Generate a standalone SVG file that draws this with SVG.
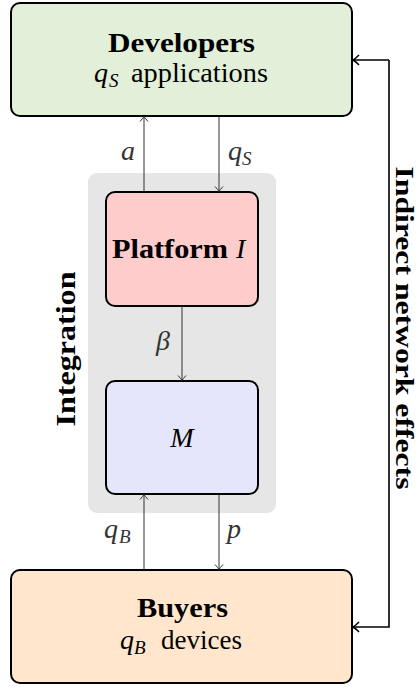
<svg xmlns="http://www.w3.org/2000/svg" width="417" height="688" viewBox="0 0 417 688">
<defs>
<style>
.box{stroke:#000;stroke-width:2}
.t{font-family:'Liberation Serif','Times New Roman',serif;font-size:28px;fill:#000}
.b{font-weight:bold}
.i{font-style:italic}
.sub{font-size:19px;font-style:italic}
.lbl{fill:#333}
.ar{fill:none;stroke:#333;stroke-width:1}
.ar2{fill:none;stroke:#000;stroke-width:1.6}
</style>
<marker id="to" markerUnits="userSpaceOnUse" viewBox="-6 -5 7 10" markerWidth="7" markerHeight="10" refX="0" refY="0" orient="auto">
<path d="M-5,-4 Q-1.5,-0.8 0,0 Q-1.5,0.8 -5,4" fill="none" stroke="#333" stroke-width="1"/>
</marker>
<marker id="to2" markerUnits="userSpaceOnUse" viewBox="-8 -6 9 12" markerWidth="9" markerHeight="12" refX="0" refY="0" orient="auto">
<path d="M-6,-5 Q-2,-1 0,0 Q-2,1 -6,5" fill="none" stroke="#000" stroke-width="1.6"/>
</marker>
</defs>
<rect width="417" height="688" fill="#fff"/>
<g id="integration">
<rect x="88" y="173" width="188" height="340" rx="9" fill="#e6e6e6"/>
<text class="t b" transform="translate(75,349) rotate(-90)" text-anchor="middle" textLength="155" lengthAdjust="spacingAndGlyphs">Integration</text>
</g>
<g id="developers">
<rect class="box" x="11" y="3" width="341" height="113" rx="9" fill="#e2efd9"/>
<text class="t b" x="108" y="52" textLength="147" lengthAdjust="spacingAndGlyphs">Developers</text>
<text class="t i" x="94" y="82">q</text>
<text class="t sub" x="109" y="87">S</text>
<text class="t" x="131" y="82" textLength="137" lengthAdjust="spacingAndGlyphs">applications</text>
</g>
<g id="platform">
<rect class="box" x="106" y="192" width="152" height="114" rx="9" fill="#ffcccc"/>
<text class="t b" x="112" y="258" textLength="116" lengthAdjust="spacingAndGlyphs">Platform</text>
<text class="t i" x="236" y="258">I</text>
</g>
<g id="m">
<rect class="box" x="106" y="381" width="152" height="113" rx="9" fill="#e5e5fc"/>
<text class="t i" x="182" y="447" text-anchor="middle">M</text>
</g>
<g id="buyers">
<rect class="box" x="11" y="570" width="341" height="113" rx="9" fill="#ffe6cc"/>
<text class="t b" x="137" y="617" textLength="91" lengthAdjust="spacingAndGlyphs">Buyers</text>
<text class="t i" x="120" y="649">q</text>
<text class="t sub" x="134" y="654">B</text>
<text class="t" x="161" y="649" textLength="81" lengthAdjust="spacingAndGlyphs">devices</text>
</g>
<g id="connectors">
<line class="ar" x1="144" y1="192" x2="144" y2="116.5" marker-end="url(#to)"/>
<line class="ar" x1="219" y1="116" x2="219" y2="191.5" marker-end="url(#to)"/>
<line class="ar" x1="182" y1="306" x2="182" y2="380.5" marker-end="url(#to)"/>
<line class="ar" x1="144" y1="570" x2="144" y2="494.5" marker-end="url(#to)"/>
<line class="ar" x1="219" y1="494" x2="219" y2="569.5" marker-end="url(#to)"/>
<path class="ar2" d="M389,60 L389,627 L353,627" marker-end="url(#to2)"/>
<path class="ar2" d="M389,60 L353,60" marker-end="url(#to2)"/>
<text class="t i lbl" x="121" y="160">a</text>
<text class="t i lbl" x="228" y="160">q</text>
<text class="t sub lbl" x="242" y="165">S</text>
<text class="t i lbl" x="156" y="350">β</text>
<text class="t i lbl" x="104" y="538">q</text>
<text class="t sub lbl" x="119" y="543">B</text>
<text class="t i lbl" x="227" y="538">p</text>
<text class="t b" style="font-size:25px" transform="translate(396,328) rotate(90)" text-anchor="middle" textLength="323" lengthAdjust="spacingAndGlyphs">Indirect network effects</text>
</g>
</svg>
